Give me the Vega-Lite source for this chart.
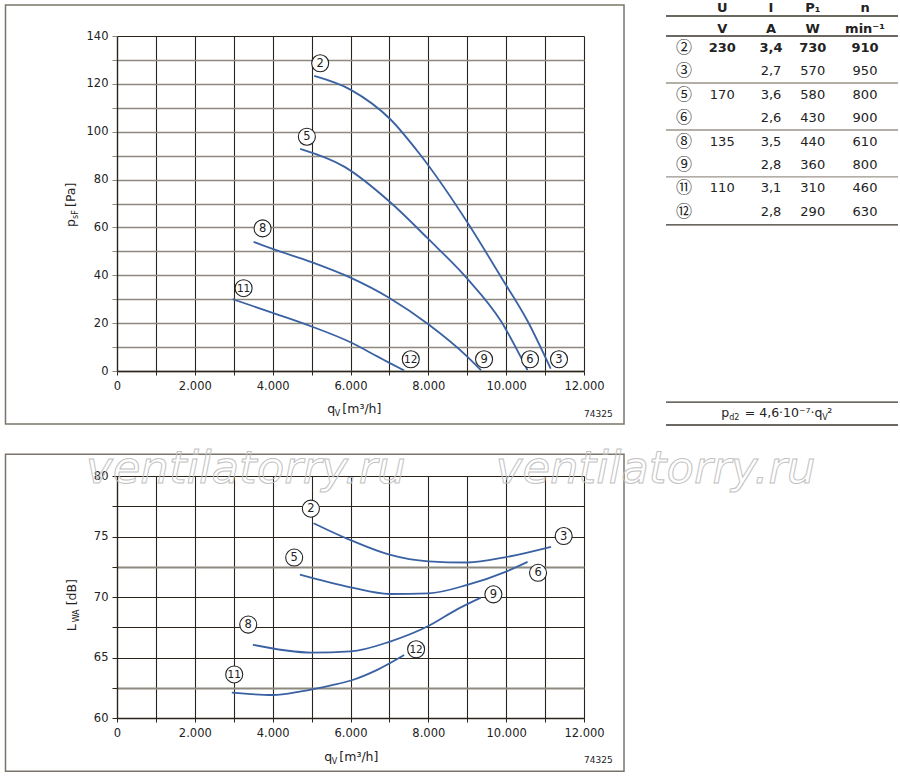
{
  "$schema": "https://vega.github.io/schema/vega-lite/v6.json",
  "background": "white",
  "padding": {"left": 4, "top": 1, "right": 2, "bottom": 2},
  "config": {
    "view": {"stroke": null},
    "text": {"font": "DejaVu Sans", "color": "#222"},
    "axis": {"labelFont": "DejaVu Sans", "labelFontSize": 11.5, "labelColor": "#222", "title": null, "labelFlush": false, "labelOverlap": false, "labelBound": false, "tickCount": 100}
  },
  "datasets": {
    "pq": [
      {"curve": "2", "q": 5067, "p": 123.3}, {"curve": "2", "q": 6008, "p": 117.5}, {"curve": "2", "q": 7036, "p": 105}, {"curve": "2", "q": 7763, "p": 91}, {"curve": "2", "q": 9047, "p": 61}, {"curve": "2", "q": 9860, "p": 39.5}, {"curve": "2", "q": 10546, "p": 21}, {"curve": "2", "q": 11144, "p": 1},
      {"curve": "5", "q": 4707, "p": 92.8}, {"curve": "5", "q": 5837, "p": 85.4}, {"curve": "5", "q": 7036, "p": 70.3}, {"curve": "5", "q": 7979, "p": 55.5}, {"curve": "5", "q": 9006, "p": 38.5}, {"curve": "5", "q": 9860, "p": 21}, {"curve": "5", "q": 10546, "p": 0.4},
      {"curve": "8", "q": 3510, "p": 54}, {"curve": "8", "q": 4000, "p": 51}, {"curve": "8", "q": 5000, "p": 45.5}, {"curve": "8", "q": 6000, "p": 39}, {"curve": "8", "q": 7000, "p": 30.5}, {"curve": "8", "q": 8000, "p": 19.5}, {"curve": "8", "q": 9000, "p": 6}, {"curve": "8", "q": 9352, "p": 0.3},
      {"curve": "11", "q": 2973, "p": 30}, {"curve": "11", "q": 4000, "p": 24.3}, {"curve": "11", "q": 5000, "p": 18.6}, {"curve": "11", "q": 6000, "p": 12}, {"curve": "11", "q": 6700, "p": 6}, {"curve": "11", "q": 7000, "p": 3.4}, {"curve": "11", "q": 7380, "p": 0.2}
    ],
    "lw": [
      {"curve": "2", "q": 5050, "L": 76.1}, {"curve": "2", "q": 6000, "L": 74.7}, {"curve": "2", "q": 7000, "L": 73.5}, {"curve": "2", "q": 8000, "L": 72.95}, {"curve": "2", "q": 9000, "L": 72.85}, {"curve": "2", "q": 10000, "L": 73.3}, {"curve": "2", "q": 11150, "L": 74.15},
      {"curve": "5", "q": 4700, "L": 71.85}, {"curve": "5", "q": 6000, "L": 70.8}, {"curve": "5", "q": 7000, "L": 70.25}, {"curve": "5", "q": 8000, "L": 70.3}, {"curve": "5", "q": 9000, "L": 71.0}, {"curve": "5", "q": 10000, "L": 72.1}, {"curve": "5", "q": 10550, "L": 72.9},
      {"curve": "8", "q": 3490, "L": 66.05}, {"curve": "8", "q": 4300, "L": 65.6}, {"curve": "8", "q": 5000, "L": 65.4}, {"curve": "8", "q": 6000, "L": 65.5}, {"curve": "8", "q": 7000, "L": 66.3}, {"curve": "8", "q": 8000, "L": 67.6}, {"curve": "8", "q": 8750, "L": 69.0}, {"curve": "8", "q": 9350, "L": 69.95},
      {"curve": "11", "q": 2950, "L": 62.1}, {"curve": "11", "q": 4000, "L": 61.9}, {"curve": "11", "q": 4728, "L": 62.2}, {"curve": "11", "q": 5500, "L": 62.7}, {"curve": "11", "q": 6012, "L": 63.1}, {"curve": "11", "q": 6700, "L": 64.0}, {"curve": "11", "q": 7380, "L": 65.2}
    ],
    "labTop": [
      {"lab": "2", "q": 5221, "p": 128.6}, {"lab": "5", "q": 4879, "p": 97.9}, {"lab": "8", "q": 3741, "p": 59.6}, {"lab": "11", "q": 3253, "p": 34.6},
      {"lab": "12", "q": 7549, "p": 4.9}, {"lab": "9", "q": 9432, "p": 4.9}, {"lab": "6", "q": 10613, "p": 4.9}, {"lab": "3", "q": 11358, "p": 4.9}
    ],
    "labBot": [
      {"lab": "2", "q": 4982, "L": 77.3}, {"lab": "3", "q": 11478, "L": 75.04}, {"lab": "6", "q": 10819, "L": 72.0}, {"lab": "9", "q": 9672, "L": 70.22},
      {"lab": "12", "q": 7686, "L": 65.68}, {"lab": "5", "q": 4553, "L": 73.26}, {"lab": "8", "q": 3372, "L": 67.72}, {"lab": "11", "q": 3012, "L": 63.6}
    ],
    "table": [
      {"r": 0.27, "id": "", "U": "U", "I": "I", "P": "P₁", "n": "n", "b": 1},
      {"r": 1.167, "id": "", "U": "V", "I": "A", "P": "W", "n": "min⁻¹", "b": 1},
      {"r": 2, "id": "②", "U": "230", "I": "3,4", "P": "730", "n": "910", "b": 1},
      {"r": 3, "id": "③", "U": "", "I": "2,7", "P": "570", "n": "950", "b": 0},
      {"r": 4, "id": "⑤", "U": "170", "I": "3,6", "P": "580", "n": "800", "b": 0},
      {"r": 5, "id": "⑥", "U": "", "I": "2,6", "P": "430", "n": "900", "b": 0},
      {"r": 6, "id": "⑧", "U": "135", "I": "3,5", "P": "440", "n": "610", "b": 0},
      {"r": 7, "id": "⑨", "U": "", "I": "2,8", "P": "360", "n": "800", "b": 0},
      {"r": 8, "id": "⑪", "U": "110", "I": "3,1", "P": "310", "n": "460", "b": 0},
      {"r": 9, "id": "⑫", "U": "", "I": "2,8", "P": "290", "n": "630", "b": 0}
    ],
    "tlines": [
      {"r": 0.632, "kind": "head"}, {"r": 1.487, "kind": "head"}, {"r": 3.496, "kind": "group"}, {"r": 5.504, "kind": "group"}, {"r": 7.51, "kind": "group"}, {"r": 9.56, "kind": "head"}, {"r": 17.13, "kind": "head"}, {"r": 18.11, "kind": "head"}
    ]
  },
  "columns": 2,
  "spacing": {"row": 105, "column": 82},
  "bounds": "flush",
  "concat": [
    {
      "width": 467,
      "height": 335,
      "layer": [
        {
          "data": {"values": [{}]},
          "mark": {"type": "rect", "filled": false, "stroke": "#7a756b", "strokeWidth": 1.5},
          "encoding": {
            "x": {"datum": -2865, "type": "quantitative"},
            "x2": {"datum": 13028},
            "y": {"datum": 152.95, "type": "quantitative"},
            "y2": {"datum": -22.15}
          }
        },
        {
          "data": {"name": "pq"},
          "mark": {"type": "line", "color": "#3a62a3", "strokeWidth": 1.8, "interpolate": "monotone"},
          "encoding": {
            "x": {"field": "q", "type": "quantitative", "scale": {"domain": [0, 12000], "nice": false, "zero": false},
              "axis": {"values": [0,1000,2000,3000,4000,5000,6000,7000,8000,9000,10000,11000,12000], "tickCount": 100, "labelExpr": "datum.value % 2000 == 0 ? replace(format(datum.value, ','), ',', '.') : ''", "grid": true, "gridColor": "#2b241a", "gridWidth": 1.1, "domainColor": "#2b241a", "domainWidth": 1.3, "tickColor": "#2b241a", "tickSize": 4, "labelPadding": 5}},
            "y": {"field": "p", "type": "quantitative", "scale": {"domain": [0, 140], "nice": false, "zero": false},
              "axis": {"values": [0,10,20,30,40,50,60,70,80,90,100,110,120,130,140], "tickCount": 100, "labelExpr": "datum.value % 20 == 0 ? format(datum.value, 'd') : ''", "grid": true, "gridColor": {"condition": {"test": "datum.value == 140", "value": "#2b241a"}, "value": "#8e897e"}, "gridWidth": {"condition": {"test": "datum.value == 140", "value": 1.2}, "value": 1.6}, "domainColor": "#2b241a", "domainWidth": 1.3, "tickColor": "#8e897e", "tickSize": 5, "labelPadding": 4}},
            "detail": {"field": "curve"}
          }
        },
        {
          "data": {"name": "labTop"},
          "mark": {"type": "point", "shape": "circle", "size": 290, "filled": true, "fill": "white", "stroke": "#222", "strokeWidth": 1.1, "opacity": 1},
          "encoding": {"x": {"field": "q", "type": "quantitative"}, "y": {"field": "p", "type": "quantitative"}}
        },
        {
          "data": {"name": "labTop"},
          "mark": {"type": "text", "baseline": "middle", "align": "center", "dy": 0.5, "fontSize": {"expr": "length(datum.lab) > 1 ? 10.5 : 11.5"}},
          "encoding": {"x": {"field": "q", "type": "quantitative"}, "y": {"field": "p", "type": "quantitative"}, "text": {"field": "lab"}}
        },
        {
          "data": {"values": [{}]},
          "mark": {"type": "text", "text": "q", "fontSize": 12.5, "align": "left", "baseline": "alphabetic"},
          "encoding": {"x": {"datum": 5405, "type": "quantitative"}, "y": {"datum": -17.55, "type": "quantitative"}}
        },
        {
          "data": {"values": [{}]},
          "mark": {"type": "text", "text": "V", "fontSize": 8, "align": "left", "baseline": "alphabetic", "dx": 7.5, "dy": 3},
          "encoding": {"x": {"datum": 5405, "type": "quantitative"}, "y": {"datum": -17.55, "type": "quantitative"}}
        },
        {
          "data": {"values": [{}]},
          "mark": {"type": "text", "text": "[m³/h]", "fontSize": 12.5, "align": "left", "baseline": "alphabetic", "dx": 15},
          "encoding": {"x": {"datum": 5405, "type": "quantitative"}, "y": {"datum": -17.55, "type": "quantitative"}}
        },
        {
          "data": {"values": [{}]},
          "mark": {"type": "text", "text": "p", "fontSize": 12.5, "align": "left", "baseline": "alphabetic", "angle": 270},
          "encoding": {"x": {"datum": -1091, "type": "quantitative"}, "y": {"datum": 60.18, "type": "quantitative"}}
        },
        {
          "data": {"values": [{}]},
          "mark": {"type": "text", "text": "sF", "fontSize": 8, "align": "left", "baseline": "alphabetic", "angle": 270, "dx": 8, "dy": 3},
          "encoding": {"x": {"datum": -1091, "type": "quantitative"}, "y": {"datum": 60.18, "type": "quantitative"}}
        },
        {
          "data": {"values": [{}]},
          "mark": {"type": "text", "text": "[Pa]", "fontSize": 12.5, "align": "left", "baseline": "alphabetic", "angle": 270, "dx": 20},
          "encoding": {"x": {"datum": -1091, "type": "quantitative"}, "y": {"datum": 60.18, "type": "quantitative"}}
        },
        {
          "data": {"values": [{}]},
          "mark": {"type": "text", "text": "74325", "fontSize": 9, "align": "right", "baseline": "alphabetic"},
          "encoding": {"x": {"datum": 12736, "type": "quantitative"}, "y": {"datum": -19.43, "type": "quantitative"}}
        }
      ]
    },
    {
      "width": 232,
      "height": 335,
      "layer": [
        {
          "data": {"name": "tlines"},
          "mark": {"type": "rule", "strokeWidth": 1.3},
          "encoding": {
            "y": {"field": "r", "type": "quantitative", "scale": {"domain": [1.487, 15.803], "reverse": true, "nice": false, "zero": false}, "axis": null},
            "color": {"field": "kind", "type": "nominal", "scale": {"domain": ["head", "group"], "range": ["#3a352c", "#9a958a"]}, "legend": null}
          }
        },
        {
          "data": {"name": "table"},
          "transform": [{"filter": "datum.id != ''"}],
          "mark": {"type": "text", "font": "Noto Sans CJK JP", "fontSize": 16, "baseline": "middle", "align": "center", "color": "#222"},
          "encoding": {
            "x": {"datum": "id", "type": "nominal", "scale": {"type": "point", "domain": ["id", "U", "I", "P", "n"], "padding": 0.5635, "align": 0.353}, "axis": null},
            "y": {"field": "r", "type": "quantitative"},
            "text": {"field": "id"}
          }
        },
        {
          "data": {"name": "table"},
          "mark": {"type": "text", "fontSize": 13, "baseline": "middle", "align": "center", "dx": -7, "fontWeight": {"expr": "datum.b == 1 ? 'bold' : 'normal'"}},
          "encoding": {"x": {"datum": "U", "type": "nominal"}, "y": {"field": "r", "type": "quantitative"}, "text": {"field": "U"}}
        },
        {
          "data": {"name": "table"},
          "mark": {"type": "text", "fontSize": 13, "baseline": "middle", "align": "center", "dx": -3.5, "fontWeight": {"expr": "datum.b == 1 ? 'bold' : 'normal'"}},
          "encoding": {"x": {"datum": "I", "type": "nominal"}, "y": {"field": "r", "type": "quantitative"}, "text": {"field": "I"}}
        },
        {
          "data": {"name": "table"},
          "mark": {"type": "text", "fontSize": 13, "baseline": "middle", "align": "center", "dx": -7, "fontWeight": {"expr": "datum.b == 1 ? 'bold' : 'normal'"}},
          "encoding": {"x": {"datum": "P", "type": "nominal"}, "y": {"field": "r", "type": "quantitative"}, "text": {"field": "P"}}
        },
        {
          "data": {"name": "table"},
          "mark": {"type": "text", "fontSize": 13, "baseline": "middle", "align": "center", "fontWeight": {"expr": "datum.b == 1 ? 'bold' : 'normal'"}},
          "encoding": {"x": {"datum": "n", "type": "nominal"}, "y": {"field": "r", "type": "quantitative"}, "text": {"field": "n"}}
        },
        {
          "data": {"values": [{}]},
          "mark": {"type": "text", "text": "p", "fontSize": 12.5, "align": "left", "baseline": "alphabetic", "dx": -8},
          "encoding": {"x": {"datum": "U", "type": "nominal"}, "y": {"datum": 17.77, "type": "quantitative"}}
        },
        {
          "data": {"values": [{}]},
          "mark": {"type": "text", "text": "d2", "fontSize": 8, "align": "left", "baseline": "alphabetic", "dx": 0, "dy": 3},
          "encoding": {"x": {"datum": "U", "type": "nominal"}, "y": {"datum": 17.77, "type": "quantitative"}}
        },
        {
          "data": {"values": [{}]},
          "mark": {"type": "text", "text": "= 4,6·10⁻⁷·q", "fontSize": 12.5, "align": "left", "baseline": "alphabetic", "dx": 15.5},
          "encoding": {"x": {"datum": "U", "type": "nominal"}, "y": {"datum": 17.77, "type": "quantitative"}}
        },
        {
          "data": {"values": [{}]},
          "mark": {"type": "text", "text": "V", "fontSize": 8, "align": "left", "baseline": "alphabetic", "dx": 93, "dy": 3},
          "encoding": {"x": {"datum": "U", "type": "nominal"}, "y": {"datum": 17.77, "type": "quantitative"}}
        },
        {
          "data": {"values": [{}]},
          "mark": {"type": "text", "text": "²", "fontSize": 12.5, "align": "left", "baseline": "alphabetic", "dx": 98},
          "encoding": {"x": {"datum": "U", "type": "nominal"}, "y": {"datum": 17.77, "type": "quantitative"}}
        }
      ]
    },
    {
      "width": 467,
      "height": 242,
      "layer": [
        {
          "data": {"values": [{}]},
          "mark": {"type": "rect", "filled": false, "stroke": "#7a756b", "strokeWidth": 1.5},
          "encoding": {
            "x": {"datum": -2865, "type": "quantitative"},
            "x2": {"datum": 13028},
            "y": {"datum": 81.79, "type": "quantitative"},
            "y2": {"datum": 55.59}
          }
        },
        {
          "data": {"name": "lw"},
          "mark": {"type": "line", "color": "#3a62a3", "strokeWidth": 1.8, "interpolate": "monotone"},
          "encoding": {
            "x": {"field": "q", "type": "quantitative", "scale": {"domain": [0, 12000], "nice": false, "zero": false},
              "axis": {"values": [0,1000,2000,3000,4000,5000,6000,7000,8000,9000,10000,11000,12000], "tickCount": 100, "labelExpr": "datum.value % 2000 == 0 ? replace(format(datum.value, ','), ',', '.') : ''", "grid": true, "gridColor": "#2b241a", "gridWidth": 1.1, "domainColor": "#2b241a", "domainWidth": 1.3, "tickColor": "#2b241a", "tickSize": 4, "labelPadding": 5}},
            "y": {"field": "L", "type": "quantitative", "scale": {"domain": [60, 80], "nice": false, "zero": false},
              "axis": {"values": [60,62.5,65,67.5,70,72.5,75,77.5,80], "tickCount": 100, "labelExpr": "datum.value % 5 == 0 ? format(datum.value, 'd') : ''", "grid": true, "gridColor": {"condition": {"test": "datum.value == 72.5 || datum.value == 62.5", "value": "#8e897e"}, "value": "#2b241a"}, "gridWidth": {"condition": {"test": "datum.value == 72.5 || datum.value == 62.5", "value": 2}, "value": 1.1}, "domainColor": "#2b241a", "domainWidth": 1.3, "tickColor": "#2b241a", "tickSize": 5, "labelPadding": 4}},
            "detail": {"field": "curve"}
          }
        },
        {
          "data": {"name": "labBot"},
          "mark": {"type": "point", "shape": "circle", "size": 290, "filled": true, "fill": "white", "stroke": "#222", "strokeWidth": 1.1, "opacity": 1},
          "encoding": {"x": {"field": "q", "type": "quantitative"}, "y": {"field": "L", "type": "quantitative"}}
        },
        {
          "data": {"name": "labBot"},
          "mark": {"type": "text", "baseline": "middle", "align": "center", "dy": 0.5, "fontSize": {"expr": "length(datum.lab) > 1 ? 10.5 : 11.5"}},
          "encoding": {"x": {"field": "q", "type": "quantitative"}, "y": {"field": "L", "type": "quantitative"}, "text": {"field": "lab"}}
        },
        {
          "data": {"values": [{}]},
          "mark": {"type": "text", "text": "ventilatorry.ru", "fontSize": 45, "fontStyle": "italic", "align": "center", "baseline": "alphabetic", "fillOpacity": 0, "stroke": "#c2c2c2", "strokeWidth": 1},
          "encoding": {"x": {"datum": 3312, "type": "quantitative"}, "y": {"datum": 79.4, "type": "quantitative"}}
        },
        {
          "data": {"values": [{}]},
          "mark": {"type": "text", "text": "ventilatorry.ru", "fontSize": 45, "fontStyle": "italic", "align": "center", "baseline": "alphabetic", "fillOpacity": 0, "stroke": "#c2c2c2", "strokeWidth": 1},
          "encoding": {"x": {"datum": 13840, "type": "quantitative"}, "y": {"datum": 79.4, "type": "quantitative"}}
        },
        {
          "data": {"values": [{}]},
          "mark": {"type": "text", "text": "q", "fontSize": 12.5, "align": "left", "baseline": "alphabetic"},
          "encoding": {"x": {"datum": 5328, "type": "quantitative"}, "y": {"datum": 56.46, "type": "quantitative"}}
        },
        {
          "data": {"values": [{}]},
          "mark": {"type": "text", "text": "V", "fontSize": 8, "align": "left", "baseline": "alphabetic", "dx": 7.5, "dy": 3},
          "encoding": {"x": {"datum": 5328, "type": "quantitative"}, "y": {"datum": 56.46, "type": "quantitative"}}
        },
        {
          "data": {"values": [{}]},
          "mark": {"type": "text", "text": "[m³/h]", "fontSize": 12.5, "align": "left", "baseline": "alphabetic", "dx": 15},
          "encoding": {"x": {"datum": 5328, "type": "quantitative"}, "y": {"datum": 56.46, "type": "quantitative"}}
        },
        {
          "data": {"values": [{}]},
          "mark": {"type": "text", "text": "L", "fontSize": 12.5, "align": "left", "baseline": "alphabetic", "angle": 270},
          "encoding": {"x": {"datum": -1053, "type": "quantitative"}, "y": {"datum": 67.16, "type": "quantitative"}}
        },
        {
          "data": {"values": [{}]},
          "mark": {"type": "text", "text": "WA", "fontSize": 8, "align": "left", "baseline": "alphabetic", "angle": 270, "dx": 9, "dy": 3},
          "encoding": {"x": {"datum": -1053, "type": "quantitative"}, "y": {"datum": 67.16, "type": "quantitative"}}
        },
        {
          "data": {"values": [{}]},
          "mark": {"type": "text", "text": "[dB]", "fontSize": 12.5, "align": "left", "baseline": "alphabetic", "angle": 270, "dx": 26},
          "encoding": {"x": {"datum": -1053, "type": "quantitative"}, "y": {"datum": 67.16, "type": "quantitative"}}
        },
        {
          "data": {"values": [{}]},
          "mark": {"type": "text", "text": "74325", "fontSize": 9, "align": "right", "baseline": "alphabetic"},
          "encoding": {"x": {"datum": 12736, "type": "quantitative"}, "y": {"datum": 56.26, "type": "quantitative"}}
        }
      ]
    }
  ]
}
